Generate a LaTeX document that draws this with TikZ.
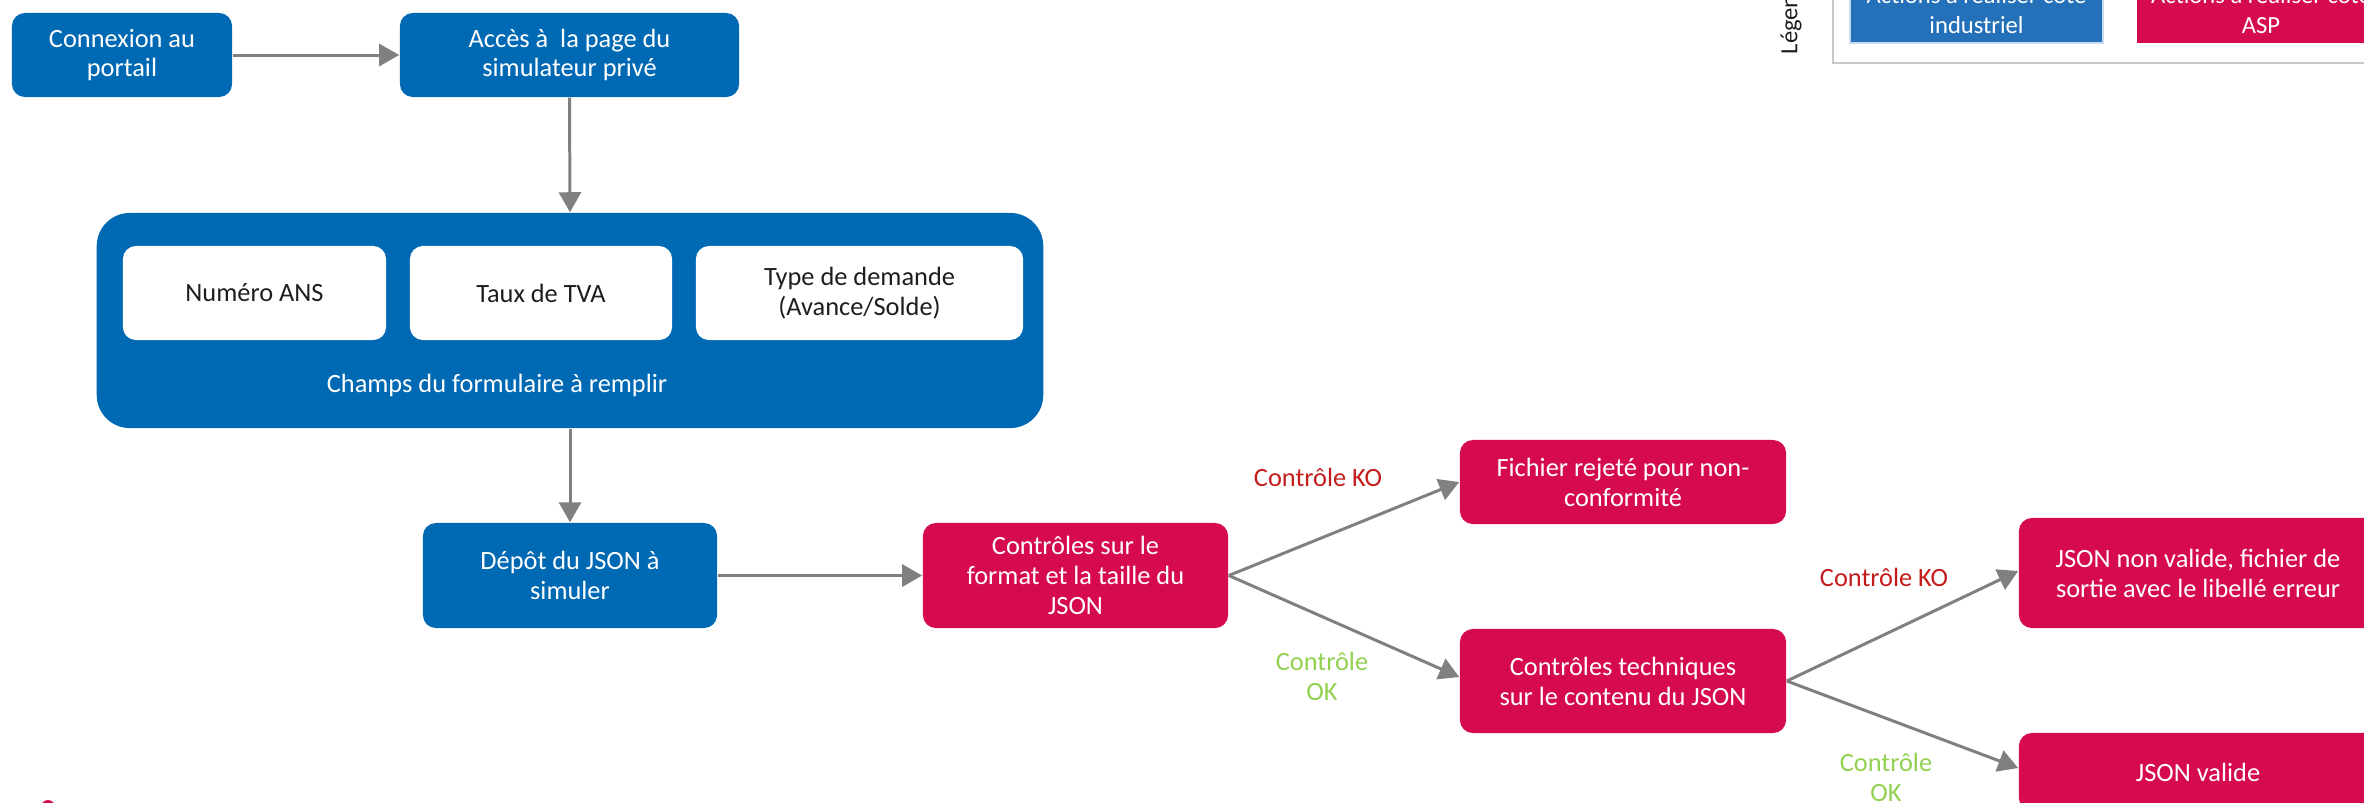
\documentclass[tikz,border=0pt]{standalone}
\usepackage{fontspec}
\setmainfont{Carlito}
\usetikzlibrary{arrows.meta}
\definecolor{aspblue}{RGB}{0,105,180}
\definecolor{aspred}{RGB}{214,10,80}
\definecolor{legblue}{RGB}{36,113,186}
\definecolor{arrowgray}{RGB}{128,128,128}
\definecolor{kored}{RGB}{196,28,28}
\definecolor{okgreen}{RGB}{146,208,80}
\definecolor{leggray}{RGB}{200,200,200}
\definecolor{darktext}{RGB}{30,30,30}
\begin{document}
\begin{tikzpicture}[x=0.01cm,y=-0.01cm,
  every node/.style={font=\fontsize{7.5}{8.5}\selectfont, align=center, inner sep=0pt},
  bluebox/.style={fill=aspblue, text=white, rounded corners=0.13cm},
  redbox/.style={fill=aspred, text=white, rounded corners=0.13cm},
  whitebox/.style={fill=white, text=darktext, rounded corners=0.13cm},
  flow/.style={draw=arrowgray, line width=0.85pt, -{Triangle[length=0.2cm,width=0.22cm]}},
  kolabel/.style={text=kored},
  oklabel/.style={text=okgreen},
  legbox/.style={font=\fontsize{7}{8.3}\selectfont, text=white, minimum height=0.66cm},
]
\useasboundingbox (0,0) rectangle (2364,802);
\clip (0,0) rectangle (2364,802);

% top row
\node[bluebox, minimum width=2.2cm, minimum height=0.84cm] (conn) at (122,55) {Connexion au\\portail};
\node[bluebox, minimum width=3.39cm, minimum height=0.84cm] (acces) at (569.5,55) {Accès à~ la page du\\simulateur privé};

% form
\node[bluebox, rounded corners=0.33cm, minimum width=9.46cm, minimum height=2.15cm] (form) at (570,320.5) {};
\node[whitebox, minimum width=2.63cm, minimum height=0.94cm] (ans) at (254.5,293) {Numéro ANS};
\node[whitebox, minimum width=2.62cm, minimum height=0.94cm] (tva) at (541,293) {Taux de TVA};
\node[whitebox, minimum width=3.27cm, minimum height=0.94cm] (type) at (859.5,293) {Type de demande\\(Avance/Solde)};
\node[text=white] (champs) at (497,385) {Champs du formulaire à remplir};

% middle row
\node[bluebox, minimum width=2.94cm, minimum height=1.05cm] (depot) at (570,575.5) {Dépôt du JSON à\\simuler};
\node[redbox, minimum width=3.05cm, minimum height=1.05cm] (fmt) at (1075.5,575.5) {Contrôles sur le\\format et la taille du\\JSON};
\node[redbox, minimum width=3.26cm, minimum height=0.84cm] (rej) at (1623,482) {Fichier rejeté pour non-\\conformité};
\node[redbox, minimum width=3.26cm, minimum height=1.04cm] (tech) at (1623,681) {Contrôles techniques\\sur le contenu du JSON};
\node[redbox, minimum width=3.58cm, minimum height=1.10cm] (nv) at (2198,573) {JSON non valide, fichier de\\sortie avec le libellé erreur};
\node[redbox, minimum width=3.58cm, minimum height=0.78cm] (val) at (2198,772) {JSON valide};

% labels
\node[kolabel] (ko1) at (1318,477) {Contrôle KO};
\node[oklabel] (ok1) at (1322,676) {Contrôle\\OK};
\node[kolabel] (ko2) at (1884,577) {Contrôle KO};
\node[oklabel] (ok2) at (1886,777) {Contrôle\\OK};

% connectors
\draw[flow] (conn.east) -- (acces.west);
\draw[flow] (acces.south) -- (form.north);
\draw[flow] (form.south) -- (depot.north);
\draw[flow] (depot.east) -- (fmt.west);
\draw[flow] (fmt.east) -- (rej.west);
\draw[flow] (fmt.east) -- ([yshift=0.04cm]tech.west);
\draw[flow] (tech.east) -- ([yshift=0.02cm]nv.west);
\draw[flow] (tech.east) -- ([yshift=0.04cm]val.west);

% legend (cropped)
\draw[leggray, line width=0.6pt] (1833,-50) rectangle (2450,63);
\node[legbox, fill=legblue, draw=white!75!legblue, line width=0.4pt, minimum width=2.53cm] (legind) at (1976.5,10) {Actions à réaliser côté\\industriel};
\node[legbox, fill=aspred, minimum width=2.48cm] (legasp) at (2261,10) {Actions à réaliser côté\\ASP};
\node[rotate=90, anchor=west, font=\fontsize{7}{8}\selectfont, text=darktext] (legtitle) at (1791,55) {Légende};

% cropped logo fragment
\fill[aspred] (48,807) circle[radius=0.07cm];
\end{tikzpicture}
\end{document}
